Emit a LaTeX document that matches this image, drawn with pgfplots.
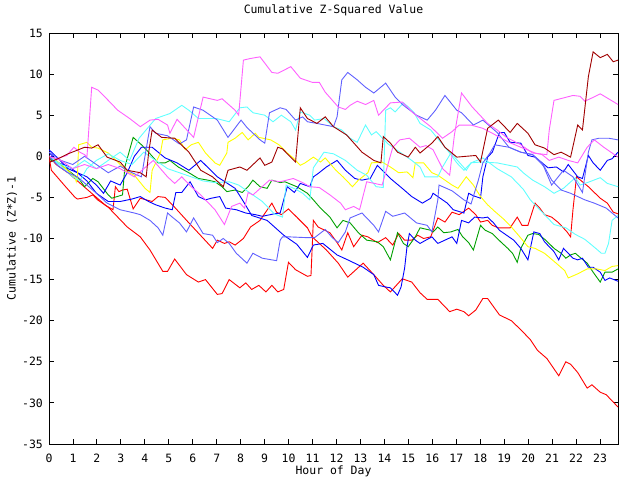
\documentclass[border=0pt]{standalone}
\usepackage{fontspec}
\setmainfont{DejaVu Sans Mono}
\usepackage{pgfplots}
\pgfplotsset{compat=1.18}
\definecolor{cRed}{HTML}{FF0000}
\definecolor{cDRed}{HTML}{A00000}
\definecolor{cGreen}{HTML}{00A000}
\definecolor{cBlue}{HTML}{0000FF}
\definecolor{cSlate}{HTML}{6060FF}
\definecolor{cMag}{HTML}{FF60FF}
\definecolor{cCyan}{HTML}{60FFFF}
\definecolor{cYel}{HTML}{FFFF00}
\begin{document}
\begin{tikzpicture}[x=1bp,y=1bp]
\path[use as bounding box] (0,0) rectangle (640,480);
\begin{axis}[
  at={(49bp,36bp)}, anchor=south west,
  scale only axis, width=569bp, height=411bp,
  xmin=0, xmax=23.75, ymin=-35, ymax=15,
  xtick={0,1,...,23}, ytick={-35,-30,...,15},
  minor tick num=0,
  tick align=inside, major tick length=5bp,
  font=\fontsize{11.5}{12}\selectfont,
  /pgf/number format/assume math mode=true,
  axis line style={line width=0.9bp},
  tick style={line width=0.9bp, black},
  yticklabel style={anchor=east, inner sep=0pt, xshift=-6bp},
  xticklabel style={anchor=north, inner sep=0pt, yshift=-10bp},
  title={Cumulative Z-Squared Value},
  title style={at={(axis description cs:0.5,1.0414)}, anchor=center, inner sep=0pt},
  xlabel={Hour of Day},
  xlabel style={at={(axis description cs:0.5,-0.0657)}, anchor=center, inner sep=0pt},
  ylabel={Cumulative (Z*Z)-1},
  ylabel style={at={(axis description cs:-0.065,0.5)}, anchor=center, inner sep=0pt},
  x filter/.expression={x*0.98958},
  every axis plot/.append style={line width=0.9bp, mark=none},
]
% red A (ends -30.5)
\addplot[cRed] coordinates {(0,0) (0.3,-1.0) (0.8,-2.0) (1.2,-3.0) (1.6,-4.0) (2.0,-5.0) (2.4,-6.0) (2.7,-6.5) (2.8,-3.7) (2.95,-4.3) (3.1,-4.1) (3.3,-4.0) (3.55,-6.4) (3.85,-5.1) (4.1,-5.3) (4.35,-5.5) (4.6,-4.9) (4.9,-5.0) (5.3,-6.2) (5.9,-8.1) (6.45,-9.8) (6.9,-11.2) (7.1,-10.2) (7.4,-10.6) (7.6,-10.4) (7.85,-10.8) (8.2,-10.0) (8.5,-8.6) (8.9,-7.8) (9.4,-5.7) (9.6,-6.8) (9.8,-7.1) (10.1,-6.4) (10.45,-7.4) (10.9,-8.7) (11.1,-9.8) (11.7,-11.4) (12.2,-13.0) (12.6,-14.7) (13.25,-13.0) (13.7,-14.4) (14.1,-15.7) (14.4,-16.5) (14.9,-14.9) (15.3,-15.3) (15.65,-16.6) (15.95,-17.4) (16.4,-17.4) (16.9,-18.9) (17.2,-18.6) (17.5,-18.9) (17.7,-19.4) (18.0,-18.7) (18.3,-17.3) (18.5,-17.3) (19.0,-19.3) (19.5,-20.0) (19.9,-21.1) (20.3,-22.3) (20.6,-23.6) (21.0,-24.6) (21.5,-26.7) (21.8,-25.0) (22.0,-25.3) (22.3,-26.3) (22.7,-28.2) (22.9,-27.8) (23.25,-28.7) (23.5,-29.0) (24,-30.5)};
% red B (ends -7)
\addplot[cRed] coordinates {(0,0) (0.1,-1.7) (0.7,-3.7) (1.1,-5.0) (1.2,-5.2) (1.6,-5.0) (1.85,-4.7) (2.05,-5.3) (2.5,-6.2) (2.7,-6.8) (3.1,-8.0) (3.3,-8.6) (3.85,-9.8) (4.26,-11.4) (4.8,-14.0) (5.0,-14.0) (5.3,-12.5) (5.8,-14.4) (6.3,-15.3) (6.6,-15.0) (7.1,-16.8) (7.3,-16.7) (7.6,-15.0) (8.05,-16.0) (8.3,-15.4) (8.55,-16.2) (8.85,-15.7) (9.15,-16.5) (9.4,-15.7) (9.65,-16.5) (9.9,-16.2) (10.1,-12.9) (10.4,-13.8) (10.9,-14.6) (11.05,-14.5) (11.15,-7.8) (11.35,-8.6) (11.85,-9.3) (12.15,-10.5) (12.35,-11.4) (12.6,-9.3) (12.85,-11.0) (13.2,-9.6) (13.45,-9.8) (13.85,-10.5) (14.2,-9.9) (14.5,-10.8) (14.75,-9.4) (15.0,-10.2) (15.3,-10.2) (15.55,-9.6) (15.8,-10.0) (16.1,-9.8) (16.4,-7.5) (16.7,-8.0) (17.0,-6.8) (17.3,-7.1) (17.7,-6.3) (18.0,-7.1) (18.2,-8.0) (18.5,-7.8) (18.7,-8.4) (18.95,-8.7) (19.45,-8.7) (19.75,-7.4) (19.95,-8.4) (20.2,-8.4) (20.5,-5.7) (20.7,-6.3) (20.9,-7.1) (21.2,-7.4) (21.5,-8.1) (21.85,-9.2) (22.0,-9.8) (22.1,-6.5) (22.25,-2.5) (22.5,-3.1) (22.75,-3.7) (23.25,-5.1) (23.55,-5.7) (23.8,-6.8) (24,-7.0)};
% green
\addplot[cGreen] coordinates {(0,0) (0.1,-0.5) (0.4,-0.8) (0.8,-1.7) (1.25,-2.7) (1.5,-3.7) (1.85,-2.7) (2.07,-3.1) (2.5,-4.7) (2.65,-5.1) (3.1,-4.7) (3.2,-1.3) (3.55,2.3) (3.9,1.4) (4.2,0.5) (4.6,-0.8) (4.9,-0.8) (5.1,-0.5) (5.45,-1.3) (5.9,-2.0) (6.3,-2.7) (6.7,-2.9) (7.0,-3.1) (7.3,-3.7) (7.5,-4.3) (7.85,-4.1) (8.15,-4.4) (8.4,-3.7) (8.6,-2.9) (8.9,-3.7) (9.2,-3.9) (9.4,-2.9) (9.75,-3.2) (9.95,-3.1) (10.45,-3.7) (10.9,-4.5) (11.15,-5.3) (11.45,-6.3) (11.85,-7.4) (12.15,-8.7) (12.4,-7.8) (12.7,-8.1) (13.05,-9.3) (13.4,-10.2) (13.85,-10.4) (14.1,-11.0) (14.4,-12.6) (14.7,-9.3) (14.95,-10.6) (15.15,-11.0) (15.45,-9.8) (15.65,-8.7) (16.1,-9.0) (16.2,-9.2) (16.4,-8.6) (16.65,-9.3) (16.95,-9.2) (17.25,-8.9) (17.45,-9.8) (17.7,-10.5) (17.9,-11.4) (18.2,-8.4) (18.4,-9.0) (18.7,-9.4) (19.05,-10.4) (19.35,-11.2) (19.55,-11.8) (19.75,-12.9) (19.9,-11.2) (20.2,-9.6) (20.4,-9.4) (20.65,-9.5) (20.95,-10.2) (21.3,-11.2) (21.6,-11.8) (21.8,-12.4) (22.0,-12.0) (22.2,-11.8) (22.4,-12.3) (22.7,-13.0) (22.95,-14.1) (23.25,-15.3) (23.45,-14.1) (23.75,-14.1) (24,-13.7)};
% blue A (ends 0.5)
\addplot[cBlue] coordinates {(0,0.8) (0.4,-0.3) (0.8,-1.5) (1.2,-2.0) (1.6,-3.0) (2.0,-4.5) (2.5,-5.5) (3.0,-5.5) (3.5,-5.2) (3.85,-4.9) (4.2,-5.5) (4.5,-5.9) (4.9,-6.3) (5.2,-6.5) (5.35,-4.4) (5.6,-4.4) (5.95,-3.1) (6.3,-4.9) (6.6,-5.3) (6.85,-5.1) (7.2,-4.9) (7.45,-6.3) (7.9,-6.5) (8.3,-6.9) (8.7,-7.1) (9.0,-7.3) (9.5,-7.0) (9.75,-6.9) (10.05,-3.7) (10.35,-4.4) (10.6,-3.3) (11.0,-3.7) (11.15,-2.5) (11.35,-2.1) (11.7,-1.3) (12.15,-0.5) (12.5,-1.7) (12.9,-2.7) (13.2,-2.9) (13.55,-2.7) (13.85,-1.1) (14.4,-2.7) (14.9,-3.9) (15.3,-4.9) (15.75,-5.7) (16.1,-5.1) (16.2,-4.5) (16.8,-5.7) (17.05,-6.5) (17.5,-6.9) (17.7,-4.5) (17.9,-4.8) (18.2,-5.1) (18.3,-2.5) (18.5,-0.1) (18.7,0.5) (19.0,2.9) (19.2,2.9) (19.45,1.7) (19.9,1.6) (20.2,0.1) (20.5,-0.1) (21.05,-1.4) (21.4,-1.3) (21.7,-1.9) (21.9,-1.0) (22.3,-2.5) (22.5,-2.7) (22.75,0.1) (22.95,-0.8) (23.25,-1.7) (23.55,-0.5) (23.75,-0.3) (24,0.5)};
% blue B (ends -15.2)
\addplot[cBlue] coordinates {(0,0.5) (0.4,-0.8) (0.8,-1.2) (1.2,-2.0) (1.6,-2.5) (2.0,-3.5) (2.3,-4.5) (2.6,-3.0) (3.0,-3.5) (3.3,-2.0) (3.6,0.0) (3.9,1.1) (4.35,1.1) (4.9,-0.2) (5.4,-0.8) (5.9,-1.7) (6.4,-0.5) (7.1,-2.5) (7.85,-3.9) (8.2,-5.5) (8.55,-7.2) (9.2,-7.8) (9.9,-9.6) (10.45,-10.7) (10.9,-12.3) (11.15,-10.8) (11.55,-10.6) (12.15,-12.0) (12.6,-12.6) (13.25,-13.5) (13.7,-14.4) (13.9,-15.7) (14.2,-15.9) (14.4,-16.0) (14.7,-16.9) (14.85,-15.9) (15.0,-13.6) (15.1,-11.0) (15.2,-9.4) (15.45,-10.2) (15.65,-10.6) (15.9,-10.2) (16.15,-9.8) (16.4,-10.6) (16.7,-10.2) (17.0,-9.8) (17.2,-10.6) (17.4,-7.8) (17.7,-8.1) (17.95,-7.4) (18.3,-7.5) (18.5,-7.4) (18.75,-8.1) (19.0,-9.0) (19.4,-9.8) (19.6,-10.2) (19.9,-11.2) (20.2,-12.6) (20.45,-9.2) (20.7,-9.4) (20.9,-10.4) (21.3,-11.6) (21.5,-12.6) (21.7,-11.2) (21.9,-11.8) (22.1,-12.4) (22.3,-12.6) (22.5,-12.4) (22.75,-13.5) (22.95,-13.5) (23.25,-14.1) (23.45,-15.1) (23.65,-14.8) (24,-15.2)};
% yellow
\addplot[cYel] coordinates {(0,0) (0.3,-0.5) (0.7,-1.5) (0.9,-2.0) (1.1,-2.6) (1.15,-3.1) (1.2,-2.5) (1.25,1.4) (1.6,1.7) (1.8,1.1) (2.07,1.0) (2.5,0.4) (2.9,-0.7) (3.3,-1.9) (3.6,-2.3) (4.05,-3.9) (4.26,-4.4) (4.35,-1.7) (4.7,0.4) (4.8,2.0) (5.2,2.2) (5.5,2.0) (5.75,0.8) (6.0,1.4) (6.3,1.7) (6.6,0.4) (7.0,-0.8) (7.2,-1.1) (7.5,0.4) (7.55,1.7) (7.85,2.2) (8.15,2.9) (8.4,2.0) (8.7,2.8) (8.85,2.3) (9.35,2.0) (9.7,1.4) (10.05,0.4) (10.3,-0.2) (10.6,-1.1) (10.8,-0.8) (11.15,-0.1) (11.45,-0.7) (11.65,-0.2) (12.1,-1.7) (12.4,-2.5) (12.8,-3.7) (13.05,-2.9) (13.45,-2.0) (13.6,-0.8) (14.05,-0.7) (14.4,-1.3) (14.75,-2.0) (15.1,-1.9) (15.35,-2.6) (15.45,-0.8) (15.8,-0.8) (16.15,-2.0) (16.4,-2.3) (16.7,-2.9) (17.0,-3.5) (17.25,-3.9) (17.6,-2.5) (17.9,-3.5) (18.2,-4.9) (18.5,-5.9) (18.8,-6.7) (19.2,-7.7) (19.5,-8.6) (19.8,-9.6) (20.2,-11.0) (20.5,-11.2) (20.9,-11.8) (21.35,-12.9) (21.75,-13.9) (21.9,-14.8) (22.3,-14.3) (22.7,-13.7) (23.1,-13.7) (23.45,-13.9) (23.75,-13.4) (24,-13.3)};
% cyan U
\addplot[cCyan] coordinates {(0,0) (0.5,-1.0) (1.0,-1.5) (1.5,-0.5) (2.0,-1.5) (2.5,-0.5) (3.0,0.5) (3.4,-0.5) (3.8,2.2) (4.5,4.6) (5.1,5.2) (5.6,6.2) (5.9,5.6) (6.3,4.6) (7.05,4.6) (7.6,4.2) (8.05,5.9) (8.35,6.0) (8.6,5.3) (9.1,5.0) (9.45,4.2) (9.8,5.0) (10.2,4.2) (10.4,3.2) (10.6,5.4) (11.0,5.0) (11.2,4.4) (11.6,4.6) (12.0,3.6) (12.35,3.2) (12.7,2.2) (13.0,1.7) (13.35,3.8) (13.6,2.6) (13.8,3.0) (14.3,1.5) (14.8,0.5) (15.3,-0.5) (15.65,-1.3) (15.85,-2.5) (16.4,-2.5) (16.6,-1.3) (16.95,0.4) (17.6,-1.7) (17.8,-0.8) (18.2,-0.7) (18.9,-0.8) (19.75,-1.3) (20.0,-2.0) (20.4,-2.9) (20.9,-3.7) (21.3,-4.5) (21.7,-3.9) (22.2,-2.6) (22.4,-3.5) (22.8,-3.1) (23.25,-2.6) (23.55,-3.3) (24,-3.7)};
% cyan B
\addplot[cCyan] coordinates {(0,0) (0.5,-1.2) (1.0,-2.5) (1.3,-3.0) (1.6,-1.5) (2.0,-0.5) (2.5,0.3) (3.0,-0.5) (3.5,-1.0) (4.0,0.5) (4.5,-0.5) (5.0,-1.5) (5.5,-2.0) (6.0,-2.5) (6.5,-3.0) (7.0,-3.2) (7.6,-3.1) (8.0,-3.5) (8.5,-4.5) (9.0,-5.5) (9.5,-7.0) (9.85,-7.4) (10.0,-3.5) (10.4,-4.0) (10.7,-4.5) (11.0,-5.3) (11.15,-1.4) (11.6,0.5) (12.0,0.3) (12.5,-0.5) (13.0,-1.7) (13.4,-2.3) (13.8,-3.7) (14.1,-3.8) (14.2,5.6) (14.4,5.9) (14.6,5.4) (14.95,6.5) (15.2,5.9) (15.4,5.3) (15.65,4.0) (16.1,3.2) (16.9,0.4) (17.2,-0.8) (17.5,-1.7) (17.8,-0.8) (18.3,-0.2) (18.9,-1.5) (19.5,-2.5) (20.0,-4.0) (20.3,-5.3) (20.7,-6.5) (21.3,-8.3) (21.8,-8.7) (22.2,-9.5) (22.6,-10.1) (23.1,-11.3) (23.3,-11.8) (23.45,-11.8) (23.6,-10.6) (23.75,-7.8) (24,-7.2)};
% slate blue A
\addplot[cSlate] coordinates {(0,0.5) (0.5,-0.5) (1.0,-1.0) (1.5,0.0) (2.0,-1.0) (2.5,-2.0) (3.0,-1.2) (3.5,-2.0) (3.9,-2.5) (4.26,3.6) (4.5,2.8) (5.0,2.5) (5.5,1.5) (5.8,2.0) (6.1,6.0) (6.5,5.6) (7.1,4.4) (7.55,2.3) (8.1,4.4) (8.35,3.5) (8.9,2.0) (9.1,1.6) (9.3,5.3) (9.75,5.9) (10.0,5.7) (10.4,4.4) (10.7,4.8) (10.9,4.2) (11.3,4.0) (12.0,3.6) (12.15,4.8) (12.35,9.3) (12.6,10.2) (13.0,9.3) (13.35,8.4) (13.7,7.7) (14.2,8.9) (14.6,7.2) (14.95,6.2) (15.5,5.0) (15.95,4.4) (16.3,5.6) (16.7,7.4) (17.2,5.6) (17.4,5.3) (17.9,3.8) (18.3,4.4) (18.9,2.9) (19.4,1.1) (19.9,0.5) (20.4,0.2) (20.8,-0.8) (21.2,-3.5) (21.7,-1.7) (22.1,-2.5) (22.5,-4.4) (22.75,0.5) (22.9,2.0) (23.2,2.2) (23.6,2.2) (24,2.0)};
% slate blue B
\addplot[cSlate] coordinates {(0,0) (0.4,-1.2) (0.8,-2.0) (1.2,-2.5) (1.6,-3.5) (2.0,-4.5) (2.45,-5.7) (3.0,-6.5) (3.6,-6.9) (3.85,-7.1) (4.26,-7.8) (4.6,-8.7) (4.8,-9.6) (5.0,-6.9) (5.2,-7.4) (5.5,-8.1) (5.8,-9.2) (6.1,-7.5) (6.5,-9.4) (6.9,-9.6) (7.1,-10.5) (7.35,-10.0) (7.6,-10.6) (7.9,-11.8) (8.35,-13.0) (8.6,-11.8) (9.0,-12.4) (9.6,-12.7) (9.75,-10.2) (9.85,-9.8) (10.1,-9.8) (10.9,-9.9) (11.2,-9.9) (11.65,-8.9) (11.95,-9.9) (12.2,-10.5) (12.5,-9.2) (12.7,-7.5) (13.2,-6.9) (13.7,-8.4) (13.9,-9.2) (14.2,-6.7) (14.5,-7.3) (15.0,-6.9) (15.5,-8.1) (15.95,-8.4) (16.15,-9.2) (16.4,-5.3) (16.45,-3.5) (17.0,-4.2) (17.5,-5.3) (17.8,-5.8) (18.1,-3.0) (18.3,-0.8) (18.6,0.4) (18.8,1.4) (19.4,1.1) (19.9,0.5) (20.4,0.2) (20.9,-1.3) (21.2,-2.9) (21.6,-4.1) (22.0,-4.5) (22.3,-4.9) (22.6,-5.3) (23.0,-5.7) (23.5,-6.3) (24,-7.5)};
% magenta B
\addplot[cMag] coordinates {(0,0) (0.5,-0.5) (1.0,-1.5) (1.5,-1.0) (2.0,-1.5) (2.5,-1.0) (3.0,-1.5) (3.6,-2.5) (4.4,-0.5) (5.0,-2.5) (5.3,-3.3) (5.6,-2.5) (6.0,-3.7) (6.4,-4.7) (7.0,-6.5) (7.4,-8.3) (7.7,-6.1) (8.05,-5.7) (8.25,-6.3) (8.4,-4.4) (8.6,-4.7) (9.3,-2.9) (9.75,-3.1) (10.3,-2.7) (10.7,-3.2) (11.0,-3.7) (11.4,-3.8) (11.85,-4.7) (12.3,-5.7) (12.5,-6.5) (12.85,-6.1) (13.1,-6.5) (13.4,-3.1) (14.05,-3.5) (14.5,1.1) (14.8,2.0) (15.2,2.2) (15.65,1.1) (15.9,1.3) (16.2,0.8) (16.6,-1.5) (16.9,-2.3) (17.1,2.6) (17.4,7.7) (17.85,6.0) (18.5,4.0) (18.9,3.2) (19.3,2.3) (19.9,1.4) (20.4,0.4) (21.0,0.2) (21.1,3.2) (21.3,6.8) (22.1,7.4) (22.4,7.3) (22.6,6.7) (22.9,7.1) (23.25,7.6) (23.6,7.0) (24,6.3)};
% magenta A
\addplot[cMag] coordinates {(0,0) (0.3,-0.3) (0.75,0.1) (1.05,1.1) (1.3,0.5) (1.5,0.2) (1.6,-0.1) (1.8,8.4) (2.07,8.05) (2.5,6.8) (2.9,5.6) (3.4,4.6) (3.85,3.6) (4.26,4.4) (4.6,4.5) (5.0,3.8) (5.1,2.8) (5.4,4.5) (6.1,2.3) (6.5,7.2) (7.1,6.8) (7.3,7.0) (7.85,5.6) (8.0,5.0) (8.2,11.7) (8.5,11.9) (8.9,12.1) (9.4,10.2) (9.65,10.1) (10.2,10.9) (10.6,9.5) (11.1,9.0) (11.4,9.0) (11.65,7.8) (12.2,6.0) (12.5,5.7) (12.7,6.2) (13.0,6.7) (13.35,6.3) (13.7,6.8) (13.9,5.0) (14.4,6.5) (14.9,6.6) (15.35,5.3) (16.1,3.6) (16.6,2.2) (17.0,3.0) (17.3,3.8) (17.8,3.8) (18.3,3.4) (18.7,2.8) (19.4,1.7) (19.9,1.1) (20.5,0.4) (20.8,0.2) (21.1,-0.5) (21.5,-0.1) (21.9,-0.5) (22.3,-0.8) (22.7,1.1) (23.0,2.0) (23.4,1.1) (24,-0.1)};
% dark red
\addplot[cDRed] coordinates {(0,0) (0.05,-0.7) (0.45,-0.2) (0.8,0.3) (1.2,0.75) (1.5,1.1) (1.8,1.0) (2.07,1.4) (2.45,-0.1) (3.0,-0.7) (3.3,-1.7) (3.85,-2.0) (4.1,-2.5) (4.2,0.4) (4.35,3.2) (4.75,2.3) (5.3,2.2) (5.9,0.5) (6.4,-1.7) (6.9,-2.5) (7.35,-3.7) (7.55,-1.7) (8.05,-1.3) (8.35,-1.7) (8.9,-0.2) (9.1,-1.1) (9.4,-0.7) (9.65,1.1) (9.85,0.9) (10.4,-0.7) (10.6,5.9) (10.9,4.6) (11.3,4.0) (11.65,4.8) (12.0,3.6) (12.55,2.6) (12.8,1.8) (13.2,0.5) (13.7,-0.5) (14.0,-0.8) (14.1,2.4) (14.4,1.6) (14.7,0.5) (15.15,-0.1) (15.45,1.1) (15.65,0.4) (16.15,1.6) (16.4,2.4) (16.7,1.1) (17.2,-0.1) (18.0,0.1) (18.2,-0.7) (18.5,3.4) (18.95,4.4) (19.45,2.9) (19.75,4.0) (20.2,2.8) (20.5,1.4) (20.9,1.0) (21.3,0.2) (21.6,0.5) (22.0,-0.1) (22.3,3.8) (22.5,3.2) (22.75,9.7) (22.95,12.7) (23.25,12.0) (23.55,12.4) (23.8,11.5) (24,11.7)};
\end{axis}
\end{tikzpicture}
\end{document}
